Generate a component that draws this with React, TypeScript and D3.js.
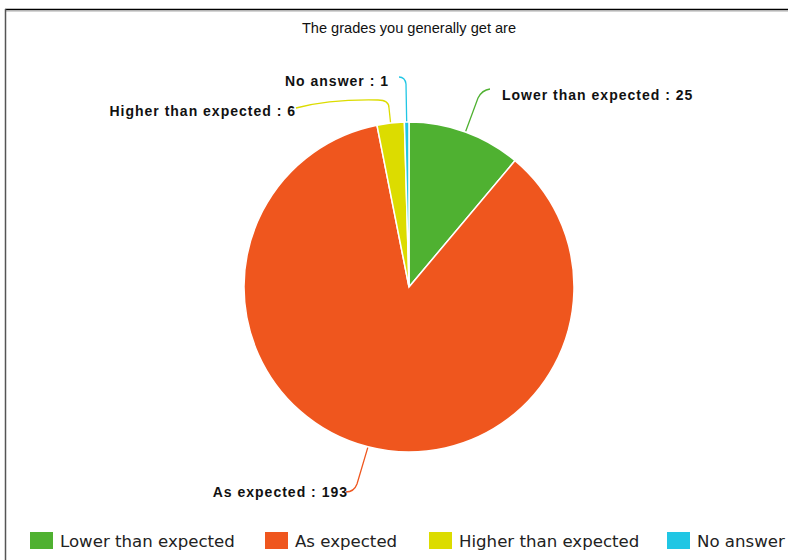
import React from "react";
import * as d3 from "d3";

const categories = ["Lower than expected", "As expected", "Higher than expected", "No answer"];
const values = [25, 193, 6, 1];
const colors = ["#4fb131", "#ef561e", "#dcdc00", "#20c6e4"];
const title = "The grades you generally get are";

const W = 788;
const H = 560;
const cx = 409;
const cy = 287;
const R = 165;

// callout layout: elbow path pieces and label anchors
const callouts = [
  { path: (s: number[]) => `M${s[0]},${s[1]} L478,98 Q482,90 490,89`, tx: 502, ty: 100, anchor: "start" },
  { path: (s: number[]) => `M${s[0]},${s[1]} L357,484 Q354,492 346,492`, tx: 348, ty: 497, anchor: "end" },
  { path: (s: number[]) => `M${s[0]},${s[1]} L389,108 Q389,100 378,100 Q330,99 296,108`, tx: 296, ty: 116, anchor: "end" },
  { path: (s: number[]) => `M${s[0]},${s[1]} L406,84 Q405,77 399,77`, tx: 389, ty: 86, anchor: "end" },
];

export default function App() {
  const pie = d3.pie<number>().sort(null).value((d) => d);
  const arcs = pie(values);
  const arc = d3.arc<d3.PieArcDatum<number>>().innerRadius(0).outerRadius(R);
  const edge = d3.arc<d3.PieArcDatum<number>>().innerRadius(R).outerRadius(R);

  const legendX = [30, 265, 429, 667];

  return (
    <svg width={W} height={H} style={{ position: "absolute", left: 0, top: 0 }}>
      <rect x={0} y={0} width={W} height={H} fill="#fff" />
      <line x1={5} y1={9.5} x2={W} y2={9.5} stroke="#000" strokeWidth={1.5} />
      <line x1={5} y1={11} x2={W} y2={11} stroke="#aaa" strokeWidth={1} />
      <line x1={5.5} y1={9} x2={5.5} y2={H} stroke="#555" strokeWidth={1.5} />
      <text x={409} y={33} textAnchor="middle" fontFamily="Liberation Sans, Arial, sans-serif" fontSize={14.6} fill="#111">
        {title}
      </text>
      <g transform={`translate(${cx},${cy})`}>
        {arcs.map((a, i) => (
          <path key={i} d={arc(a) || ""} fill={colors[i]} stroke="#fff" strokeWidth={1.5} />
        ))}
      </g>
      {arcs.map((a, i) => {
        const c = edge.centroid(a);
        const s = [cx + c[0] * 1.005, cy + c[1] * 1.005];
        const co = callouts[i];
        return (
          <g key={i}>
            <path d={co.path(s)} fill="none" stroke={colors[i]} strokeWidth={1.3} />
            <text
              x={co.tx}
              y={co.ty}
              textAnchor={co.anchor as any}
              fontFamily="Liberation Sans, Arial, sans-serif"
              fontWeight="bold"
              fontSize={14}
              letterSpacing={1}
              fill="#111"
            >
              {`${categories[i]} : ${values[i]}`}
            </text>
          </g>
        );
      })}
      {categories.map((c, i) => (
        <g key={c}>
          <rect x={legendX[i]} y={532} width={23} height={17} fill={colors[i]} />
          <text x={legendX[i] + 30} y={547} fontFamily="DejaVu Sans, sans-serif" fontSize={16.6} fill="#222">
            {c}
          </text>
        </g>
      ))}
    </svg>
  );
}
